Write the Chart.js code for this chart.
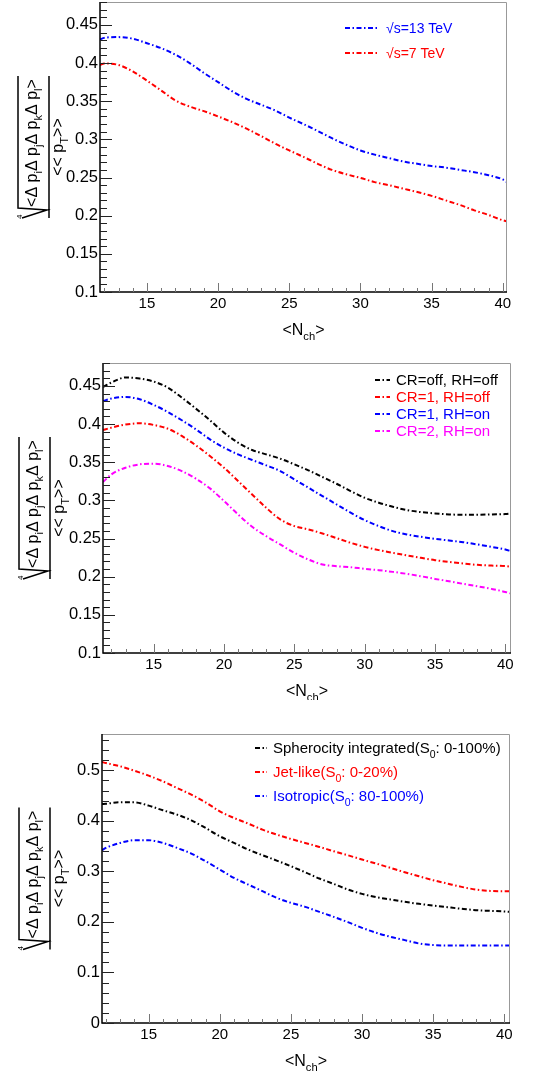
<!DOCTYPE html>
<html>
<head>
<meta charset="utf-8">
<script src="https://cdn.jsdelivr.net/npm/chart.js@4.4.0/dist/chart.umd.min.js"></script>
<style>
  body { margin: 0; background: #fff; }
  canvas { position: absolute; left: 0; }
</style>
</head>
<body>
<canvas id="chartEnergy" width="538" height="340" style="top:0px"></canvas>
<canvas id="chartTune" width="538" height="360" style="top:340px"></canvas>
<canvas id="chartSpher" width="538" height="374" style="top:700px"></canvas>
<script>
// ---- data ----
var nchEnergy = [11.7, 12, 13, 14, 15, 16, 17, 18, 19, 20, 21, 22, 23, 24, 25, 26, 27, 28, 29, 30, 31, 32, 33, 34, 35, 36, 37, 38, 39, 40, 40.3];
var s13TeV = [0.431, 0.433, 0.434, 0.432, 0.426, 0.4195, 0.411, 0.400, 0.387, 0.375, 0.363, 0.353, 0.3455, 0.338, 0.3285, 0.320, 0.311, 0.3015, 0.293, 0.2855, 0.280, 0.2755, 0.271, 0.268, 0.265, 0.263, 0.260, 0.257, 0.253, 0.2475, 0.244];
var s7TeV = [0.3975, 0.3995, 0.3975, 0.389, 0.377, 0.364, 0.351, 0.343, 0.337, 0.330, 0.3225, 0.314, 0.3045, 0.2945, 0.2855, 0.277, 0.268, 0.260, 0.2543, 0.2495, 0.244, 0.240, 0.2355, 0.231, 0.226, 0.220, 0.214, 0.207, 0.201, 0.194, 0.1925];

var nchTune = [11.4, 12, 13, 14, 15, 16, 17, 18, 19, 20, 21, 22, 23, 24, 25, 26, 27, 28, 29, 30, 31, 32, 33, 34, 35, 36, 37, 38, 39, 40, 40.4];
var crOffRhOff = [0.4487, 0.4544, 0.461, 0.4596, 0.4557, 0.4478, 0.4347, 0.4202, 0.405, 0.3888, 0.3756, 0.366, 0.3603, 0.3546, 0.3472, 0.3393, 0.3306, 0.3218, 0.3122, 0.3034, 0.2969, 0.2916, 0.2873, 0.2846, 0.2829, 0.2816, 0.2811, 0.2811, 0.2816, 0.282, 0.2829];
var cr1RhOff = [0.3922, 0.3953, 0.3993, 0.401, 0.3988, 0.394, 0.3844, 0.3721, 0.3581, 0.3428, 0.3253, 0.3078, 0.2903, 0.275, 0.2663, 0.2619, 0.2566, 0.2505, 0.2444, 0.2391, 0.2348, 0.2313, 0.2278, 0.2247, 0.2216, 0.2194, 0.2173, 0.2155, 0.2146, 0.2138, 0.2129];
var cr1RhOn = [0.4303, 0.4334, 0.4356, 0.4325, 0.4251, 0.4159, 0.405, 0.3931, 0.38, 0.3691, 0.3603, 0.3529, 0.3459, 0.3384, 0.3275, 0.3166, 0.3056, 0.2947, 0.2838, 0.2741, 0.2663, 0.2597, 0.2553, 0.2522, 0.2496, 0.2474, 0.2452, 0.2422, 0.2391, 0.2356, 0.2334];
var cr2RhOn = [0.324, 0.3341, 0.3428, 0.3472, 0.3481, 0.345, 0.3384, 0.3284, 0.3157, 0.2991, 0.2816, 0.2654, 0.2531, 0.2422, 0.2313, 0.2225, 0.2159, 0.2138, 0.2124, 0.2103, 0.2085, 0.2063, 0.2037, 0.2006, 0.1971, 0.194, 0.1906, 0.1875, 0.184, 0.18, 0.1779];

var nchSpher = [11.72, 12, 13, 14, 15, 16, 17, 18, 19, 20, 21, 22, 23, 24, 25, 26, 27, 28, 29, 30, 31, 32, 33, 34, 35, 36, 37, 38, 39, 40, 40.4];
var spherAll = [0.4335, 0.434, 0.4368, 0.4368, 0.4302, 0.421, 0.4124, 0.4012, 0.386, 0.3696, 0.3564, 0.3432, 0.332, 0.3215, 0.3103, 0.2984, 0.2859, 0.2754, 0.2642, 0.2556, 0.249, 0.2444, 0.2398, 0.2358, 0.2325, 0.2292, 0.226, 0.2233, 0.222, 0.2207, 0.22];
var jetLike = [0.5165, 0.5145, 0.508, 0.4993, 0.4895, 0.4783, 0.465, 0.452, 0.4368, 0.419, 0.4058, 0.3946, 0.3827, 0.3729, 0.3643, 0.3564, 0.3485, 0.34, 0.332, 0.3235, 0.3155, 0.307, 0.2984, 0.2905, 0.2826, 0.276, 0.2694, 0.2642, 0.2615, 0.2609, 0.261];
var isotropic = [0.3419, 0.3465, 0.3564, 0.3617, 0.3617, 0.3564, 0.3465, 0.3353, 0.3202, 0.3037, 0.2872, 0.274, 0.2609, 0.2477, 0.2378, 0.2299, 0.22, 0.2101, 0.1996, 0.1884, 0.1785, 0.1706, 0.164, 0.1574, 0.1542, 0.1535, 0.1535, 0.1535, 0.1535, 0.1535, 0.1535];

var FONT = '"Liberation Sans", Arial, Helvetica, sans-serif';
var DASH = [5, 2.5, 1.5, 2.5];

// split "abc_{x}def" into normal / subscript pieces
function richParts(str) {
  var parts = [], re = /_\{([^}]*)\}/g, last = 0, m;
  while ((m = re.exec(str))) {
    if (m.index > last) parts.push({ t: str.slice(last, m.index), sub: false });
    parts.push({ t: m[1], sub: true });
    last = re.lastIndex;
  }
  if (last < str.length) parts.push({ t: str.slice(last), sub: false });
  return parts;
}

function drawRich(ctx, str, x, y, size, align) {
  var parts = richParts(str), w = 0;
  parts.forEach(function (p) {
    ctx.font = (p.sub ? size * 0.7 : size) + 'px ' + FONT;
    p.w = ctx.measureText(p.t).width;
    w += p.w;
  });
  var cx = align === 'center' ? x - w / 2 : x;
  ctx.textAlign = 'left';
  ctx.textBaseline = 'alphabetic';
  parts.forEach(function (p) {
    ctx.font = (p.sub ? size * 0.7 : size) + 'px ' + FONT;
    ctx.fillText(p.t, cx, p.sub ? y + size * 0.3 : y);
    cx += p.w;
  });
  return w;
}

// ROOT-like frame, inward ticks, titles and legend
var rootStyle = {
  id: 'rootStyle',
  afterDraw: function (chart) {
    var o = chart.options.plugins.rootStyle;
    var ctx = chart.ctx, a = chart.chartArea;
    var xs = chart.scales.x, ys = chart.scales.y;
    ctx.save();

    // frame
    ctx.lineWidth = 1;
    ctx.strokeStyle = '#999';
    ctx.beginPath();
    ctx.moveTo(a.left, a.top + 0.5); ctx.lineTo(a.right - 0.5, a.top + 0.5); ctx.lineTo(a.right - 0.5, a.bottom);
    ctx.stroke();
    ctx.strokeStyle = '#000';
    ctx.lineWidth = 1.5;
    ctx.beginPath();
    ctx.moveTo(a.left, a.top); ctx.lineTo(a.left, a.bottom); ctx.lineTo(a.right, a.bottom);
    ctx.stroke();

    // y ticks
    ctx.lineWidth = 1;
    ctx.strokeStyle = '#222';
    ctx.beginPath();
    var v, p;
    for (v = Math.ceil(ys.min / o.yMinor - 1e-6) * o.yMinor; v <= ys.max + 1e-9; v += o.yMinor) {
      p = Math.round(ys.getPixelForValue(v)) + 0.5;
      var major = Math.abs(v / o.yStep - Math.round(v / o.yStep)) < 1e-6;
      ctx.moveTo(a.left, p); ctx.lineTo(a.left + (major ? 12 : 7), p);
    }
    ctx.stroke();
    // x ticks
    ctx.strokeStyle = '#777';
    ctx.beginPath();
    for (v = Math.ceil(xs.min); v <= xs.max; v += 1) {
      p = Math.round(xs.getPixelForValue(v)) + 0.5;
      ctx.moveTo(p, a.bottom); ctx.lineTo(p, a.bottom - (v % 5 === 0 ? 9 : 4));
    }
    ctx.stroke();

    // x title
    ctx.fillStyle = '#000';
    drawRich(ctx, '<N_{ch}>', (a.left + a.right) / 2, a.bottom + 43, 16, 'center');

    // y title: fourth root of <ΔpΔpΔpΔp> over <<pT>>
    ctx.save();
    ctx.translate(o.titleX, (a.top + a.bottom) / 2);
    ctx.rotate(-Math.PI / 2);
    ctx.strokeStyle = '#000';
    ctx.lineWidth = 1.5;
    ctx.beginPath();
    ctx.moveTo(-71, 0); ctx.lineTo(71, 0);
    ctx.moveTo(-71, -27); ctx.lineTo(-63, -2); ctx.lineTo(-61, -31); ctx.lineTo(71, -31);
    ctx.stroke();
    ctx.fillStyle = '#000';
    ctx.font = '8px ' + FONT;
    ctx.textAlign = 'left';
    ctx.fillText('4', -72, -27);
    drawRich(ctx, '<\u0394 p_{i}\u0394 p_{j}\u0394 p_{k}\u0394 p_{l}>', 4, -12, 16, 'center');
    drawRich(ctx, '<< p_{T}>>', 0, 14, 16, 'center');
    ctx.restore();

    // legend
    var L = o.legend;
    chart.data.datasets.forEach(function (ds, i) {
      var yy = L.y + i * L.rowH;
      ctx.strokeStyle = ds.borderColor;
      ctx.lineWidth = 2;
      ctx.setLineDash(DASH);
      ctx.beginPath();
      ctx.moveTo(L.x, yy); ctx.lineTo(L.x + L.lineLen, yy);
      ctx.stroke();
      ctx.setLineDash([]);
      ctx.fillStyle = ds.borderColor;
      drawRich(ctx, ds.label, L.textX, yy + L.size * 0.36, L.size, 'left');
    });
    ctx.restore();
  }
};

function makeChart(id, nch, series, cfg) {
  var canvas = document.getElementById(id);
  var left = cfg.area[0], top = cfg.area[1];
  var right = canvas.width - cfg.area[2], bottom = canvas.height - cfg.area[3];
  return new Chart(canvas, {
    type: 'line',
    data: {
      datasets: series.map(function (s) {
        return {
          label: s.label,
          data: s.values.map(function (y, i) { return { x: nch[i], y: y }; }),
          borderColor: s.color,
          borderWidth: 2,
          borderDash: DASH,
          pointRadius: 0,
          cubicInterpolationMode: 'monotone',
          fill: false
        };
      })
    },
    options: {
      responsive: false,
      animation: false,
      layout: { padding: { left: 0, top: top, right: right, bottom: 0 } },
      scales: {
        x: {
          type: 'linear', min: cfg.xMin, max: cfg.xMax,
          grid: { display: false, drawTicks: false },
          border: { display: false },
          ticks: { stepSize: 5, includeBounds: false, padding: 3, maxRotation: 0, autoSkip: false, color: '#000', font: { family: FONT, size: 15 } },
          afterFit: function (s) { s.height = bottom; s.paddingLeft = 0; s.paddingRight = 0; }
        },
        y: {
          type: 'linear', min: cfg.yMin, max: cfg.yMax,
          grid: { display: false, drawTicks: false },
          border: { display: false },
          ticks: {
            stepSize: cfg.yStep, includeBounds: false, padding: 2, autoSkip: false, color: '#000', font: { family: FONT, size: 16.5 },
            callback: function (v) { return String(+v.toFixed(2)); }
          },
          afterFit: function (s) { s.width = left; s.paddingTop = 0; s.paddingBottom = 0; }
        }
      },
      plugins: {
        legend: { display: false },
        tooltip: { enabled: false },
        rootStyle: { yStep: cfg.yStep, yMinor: cfg.yMinor, titleX: cfg.titleX, legend: cfg.legend }
      }
    },
    plugins: [rootStyle]
  });
}

makeChart('chartEnergy', nchEnergy, [
  { label: '\u221As=13 TeV', values: s13TeV, color: '#0000ff' },
  { label: '\u221As=7 TeV', values: s7TeV, color: '#ff0000' }
], {
  area: [100, 2, 507, 292], xMin: 11.7, xMax: 40.3, yMin: 0.1, yMax: 0.48, yStep: 0.05, yMinor: 0.01, titleX: 49,
  legend: { x: 345, y: 28, rowH: 25, lineLen: 32, textX: 386, size: 14 }
});

makeChart('chartTune', nchTune, [
  { label: 'CR=off, RH=off', values: crOffRhOff, color: '#000000' },
  { label: 'CR=1, RH=off', values: cr1RhOff, color: '#ff0000' },
  { label: 'CR=1, RH=on', values: cr1RhOn, color: '#0000ff' },
  { label: 'CR=2, RH=on', values: cr2RhOn, color: '#ff00ff' }
], {
  area: [103, 23, 511, 313], xMin: 11.4, xMax: 40.4, yMin: 0.1, yMax: 0.48, yStep: 0.05, yMinor: 0.01, titleX: 50,
  legend: { x: 375, y: 40, rowH: 17, lineLen: 15, textX: 396, size: 15 }
});

makeChart('chartSpher', nchSpher, [
  { label: 'Spherocity integrated(S_{0}: 0-100%)', values: spherAll, color: '#000000' },
  { label: 'Jet-like(S_{0}: 0-20%)', values: jetLike, color: '#ff0000' },
  { label: 'Isotropic(S_{0}: 80-100%)', values: isotropic, color: '#0000ff' }
], {
  area: [102, 34, 510, 323], xMin: 11.72, xMax: 40.4, yMin: 0, yMax: 0.572, yStep: 0.1, yMinor: 0.02, titleX: 50,
  legend: { x: 255, y: 48, rowH: 24, lineLen: 12, textX: 273, size: 15 }
});
</script>
</body>
</html>
